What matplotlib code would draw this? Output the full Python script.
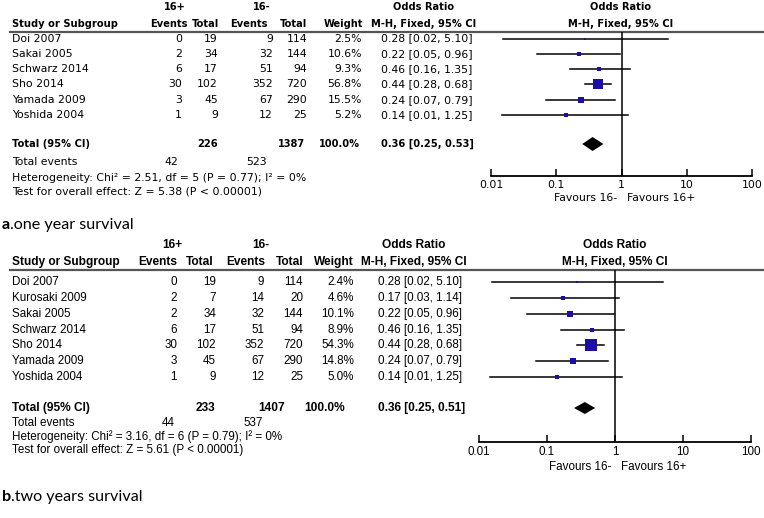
import numpy as np
import matplotlib
matplotlib.use("Agg")
import matplotlib.pyplot as plt

# ---- panel a: one year survival ----
studies_a = ["Doi 2007", "Sakai 2005", "Schwarz 2014", "Sho 2014", "Yamada 2009", "Yoshida 2004"]
ev1_a = [0, 2, 6, 30, 3, 1]
n1_a = [19, 34, 17, 102, 45, 9]
ev2_a = [9, 32, 51, 352, 67, 12]
n2_a = [114, 144, 94, 720, 290, 25]
weight_a = [2.5, 10.6, 9.3, 56.8, 15.5, 5.2]
or_a = [0.28, 0.22, 0.46, 0.44, 0.24, 0.14]
lo_a = [0.0153, 0.05, 0.16, 0.28, 0.07, 0.0145]
hi_a = [5.10, 0.96, 1.35, 0.68, 0.79, 1.25]
ci_txt_a = ["0.28 [0.02, 5.10]", "0.22 [0.05, 0.96]", "0.46 [0.16, 1.35]",
            "0.44 [0.28, 0.68]", "0.24 [0.07, 0.79]", "0.14 [0.01, 1.25]"]
tot_a = dict(n1=226, n2=1387, ev1=42, ev2=523, est=0.36, lo=0.25, hi=0.53,
             txt="0.36 [0.25, 0.53]",
             het="Heterogeneity: Chi² = 2.51, df = 5 (P = 0.77); I² = 0%",
             test="Test for overall effect: Z = 5.38 (P < 0.00001)")

# ---- panel b: two years survival ----
studies_b = ["Doi 2007", "Kurosaki 2009", "Sakai 2005", "Schwarz 2014", "Sho 2014", "Yamada 2009", "Yoshida 2004"]
ev1_b = [0, 2, 2, 6, 30, 3, 1]
n1_b = [19, 7, 34, 17, 102, 45, 9]
ev2_b = [9, 14, 32, 51, 352, 67, 12]
n2_b = [114, 20, 144, 94, 720, 290, 25]
weight_b = [2.4, 4.6, 10.1, 8.9, 54.3, 14.8, 5.0]
or_b = [0.28, 0.17, 0.22, 0.46, 0.44, 0.24, 0.14]
lo_b = [0.0153, 0.03, 0.05, 0.16, 0.28, 0.07, 0.0145]
hi_b = [5.10, 1.14, 0.96, 1.35, 0.68, 0.79, 1.25]
ci_txt_b = ["0.28 [0.02, 5.10]", "0.17 [0.03, 1.14]", "0.22 [0.05, 0.96]", "0.46 [0.16, 1.35]",
            "0.44 [0.28, 0.68]", "0.24 [0.07, 0.79]", "0.14 [0.01, 1.25]"]
tot_b = dict(n1=233, n2=1407, ev1=44, ev2=537, est=0.36, lo=0.25, hi=0.51,
             txt="0.36 [0.25, 0.51]",
             het="Heterogeneity: Chi² = 3.16, df = 6 (P = 0.79); I² = 0%",
             test="Test for overall effect: Z = 5.61 (P < 0.00001)")

ticks = [0.01, 0.1, 1, 10, 100]
tick_labels = ["0.01", "0.1", "1", "10", "100"]

W, H = 764, 518
fig = plt.figure(figsize=(W / 100, H / 100), dpi=100)
bg = fig.add_axes([0, 0, 1, 1])
bg.set_xlim(0, W)
bg.set_ylim(H, 0)
bg.axis("off")

SQ = "#1c0ca8"


def panel(studies, ev1, n1, ev2, n2, weight, orv, lo, hi, ci_txt, tot, L):
    fam = L["font"]
    fs = L["fs"]
    bfs = L["bfs"]
    kw = dict(family=fam, fontsize=fs, va="center")
    bkw = dict(family=fam, fontsize=bfs, va="center", fontweight="bold")
    # headers
    bg.text(L["h16p"], L["hy1"], "16+", ha="center", **bkw)
    bg.text(L["h16m"], L["hy1"], "16-", ha="center", **bkw)
    bg.text(L["orc"], L["hy1"], "Odds Ratio", ha="center", **bkw)
    bg.text(L["plc"], L["hy1"], "Odds Ratio", ha="center", **bkw)
    bg.text(12, L["hy2"], "Study or Subgroup", ha="left", **bkw)
    for x, s in zip(L["hcols"], ["Events", "Total", "Events", "Total", "Weight"]):
        bg.text(x, L["hy2"], s, ha="right", **bkw)
    bg.text(L["orc"], L["hy2"], "M-H, Fixed, 95% CI", ha="center", **bkw)
    bg.text(L["plc"], L["hy2"], "M-H, Fixed, 95% CI", ha="center", **bkw)
    bg.plot([10, W], [L["rule"], L["rule"]], color="#555555", lw=1.6)

    ys = L["y0"] + L["dy"] * np.arange(len(studies))
    c = L["cols"]
    for i, y in enumerate(ys):
        bg.text(12, y, studies[i], ha="left", **kw)
        bg.text(c[0], y, str(ev1[i]), ha="right", **kw)
        bg.text(c[1], y, str(n1[i]), ha="right", **kw)
        bg.text(c[2], y, str(ev2[i]), ha="right", **kw)
        bg.text(c[3], y, str(n2[i]), ha="right", **kw)
        bg.text(c[4], y, f"{weight[i]:.1f}%", ha="right", **kw)
        bg.text(L["cix"], y, ci_txt[i], ha="left", **kw)

    ty = L["ty"]
    bg.text(12, ty, "Total (95% CI)", ha="left", **bkw)
    bg.text(L["tcols"][0], ty, str(tot["n1"]), ha="right", **bkw)
    bg.text(L["tcols"][1], ty, str(tot["n2"]), ha="right", **bkw)
    bg.text(L["tcols"][2], ty, "100.0%", ha="right", **bkw)
    bg.text(L["cix"], ty, tot["txt"], ha="left", **bkw)
    bg.text(12, L["ey"], "Total events", ha="left", **kw)
    bg.text(L["ecols"][0], L["ey"], str(tot["ev1"]), ha="right", **kw)
    bg.text(L["ecols"][1], L["ey"], str(tot["ev2"]), ha="right", **kw)
    bg.text(12, L["hety"], tot["het"], ha="left", **kw)
    bg.text(12, L["testy"], tot["test"], ha="left", **kw)

    # forest plot axes (y in pixel rows of the page)
    x0, x1, top, bot = L["ax"]
    ax = fig.add_axes([x0 / W, 1 - bot / H, (x1 - x0) / W, (bot - top) / H])
    ax.patch.set_alpha(0)
    ax.set_xscale("log")
    ax.set_xlim(0.01, 100)
    ax.set_ylim(bot, top)
    for s in ["top", "left", "right"]:
        ax.spines[s].set_visible(False)
    ax.spines["bottom"].set_linewidth(1.3)
    ax.set_yticks([])
    ax.set_xticks(ticks)
    ax.set_xticklabels(tick_labels, family=fam, fontsize=fs)
    ax.minorticks_off()
    ax.tick_params(axis="x", direction="in", length=5, width=1.1, pad=3)
    ax.axvline(1, color="black", lw=1.1)
    for i, y in enumerate(ys):
        ax.plot([lo[i], hi[i]], [y, y], color="black", lw=1.1)
        side = L["k"] * np.sqrt(weight[i])
        ax.plot(orv[i], y, marker="s", ms=side * 0.72, color=SQ, mec=SQ, mew=0)
    dh = L["dh"]
    ax.fill([tot["lo"], tot["est"], tot["hi"], tot["est"]],
            [ty, ty - dh, ty, ty + dh], color="black", lw=0)
    bg.text(L["fx"] - 4, L["fy"], "Favours 16-", ha="right", **kw)
    bg.text(L["fx"] + 6, L["fy"], "Favours 16+", ha="left", **kw)

    # caption
    r = fig.canvas.get_renderer()
    t = bg.text(2, L["capy"], L["cap"][0], ha="left", va="center", family="Lato",
                fontsize=11.6, fontweight="bold")
    bb = t.get_window_extent(renderer=r)
    bg.text(2 + bb.width, L["capy"], L["cap"][1], ha="left", va="center",
            family="Lato", fontsize=11.6)


LA = dict(font="DejaVu Sans", fs=7.8, bfs=7.1,
          h16p=175, h16m=262, orc=424, plc=621, hy1=7, hy2=24,
          hcols=[188, 219, 268, 307, 363], rule=32,
          y0=38.5, dy=15.3, cols=[182, 218, 273, 307, 362], cix=381,
          ty=144, tcols=[218, 305, 360], ey=162, ecols=[178, 267], hety=178, testy=191,
          ax=(491, 752, 32, 176), k=1.33, dh=7, fx=621, fy=198,
          capy=225, cap=("a", ".one year survival"))
LB = dict(font="Liberation Sans", fs=8.4, bfs=8.6,
          h16p=172, h16m=261, orc=414, plc=615, hy1=245, hy2=262,
          hcols=[177, 214, 265, 303, 354], rule=270,
          y0=282, dy=15.85, cols=[177, 216, 264, 303, 354], cix=378,
          ty=408, tcols=[215, 285, 345], ey=423, ecols=[175, 263], hety=436.5, testy=449.5,
          ax=(479, 751, 270, 442), k=1.63, dh=6, fx=615, fy=467,
          capy=497, cap=("b", ".two years survival"))

panel(studies_a, ev1_a, n1_a, ev2_a, n2_a, weight_a, or_a, lo_a, hi_a, ci_txt_a, tot_a, LA)
panel(studies_b, ev1_b, n1_b, ev2_b, n2_b, weight_b, or_b, lo_b, hi_b, ci_txt_b, tot_b, LB)

fig.savefig("out.png", dpi=100)
